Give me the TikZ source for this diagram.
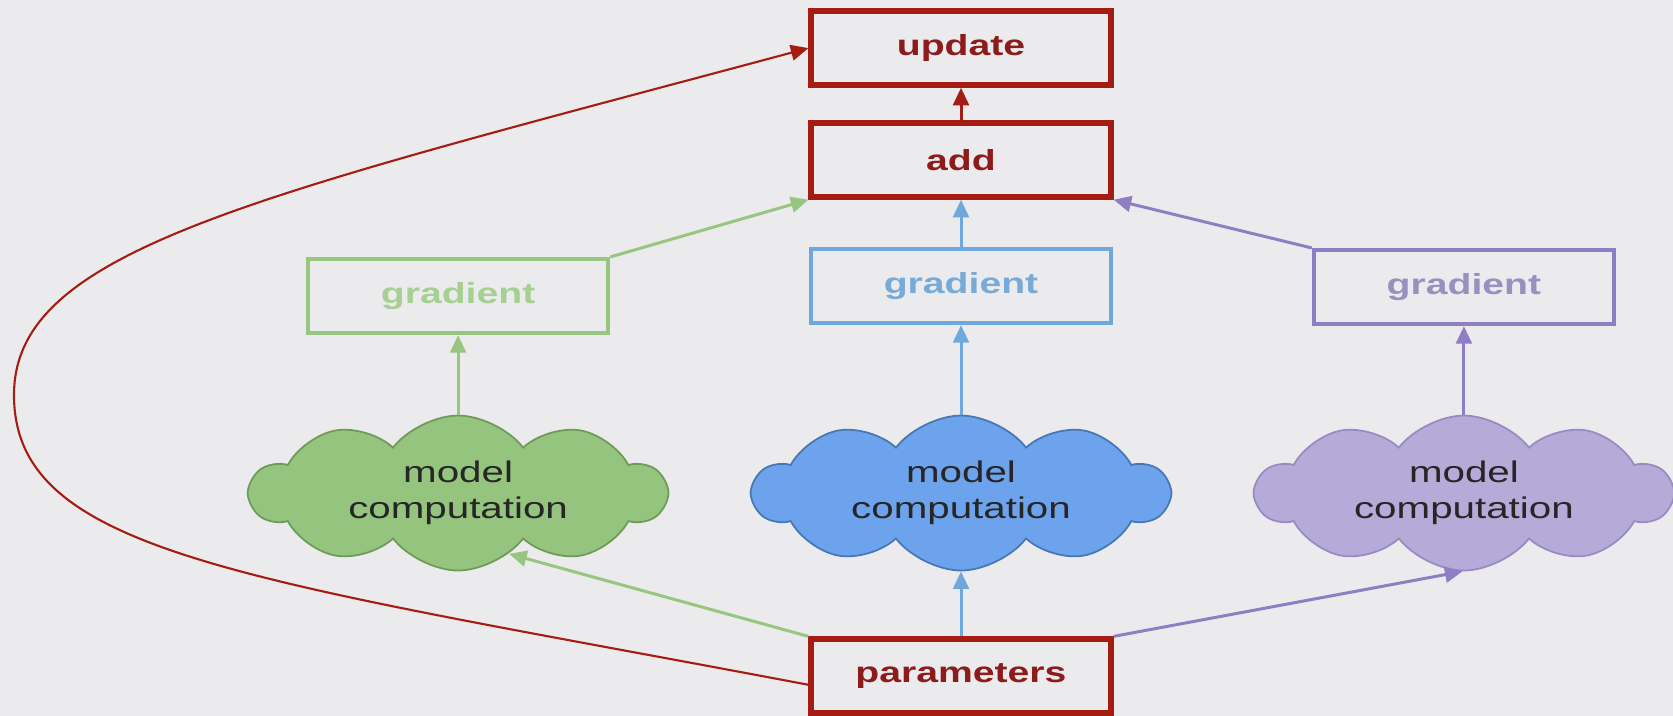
\documentclass[tikz,border=0pt]{standalone}
\usepackage{fontspec}
\newfontfamily\diagfont[FakeStretch=1.35]{Liberation Sans}
\usetikzlibrary{arrows.meta,shapes.symbols}
\newcommand\boxlabel{\diagfont\bfseries\fontsize{16.5}{20}\selectfont}
\newcommand\cloudlabel{\diagfont\fontsize{17}{20.5}\selectfont}

\definecolor{bgcol}{RGB}{235,235,237}
\definecolor{redline}{RGB}{165,28,18}
\definecolor{redtext}{RGB}{140,28,28}
\definecolor{greenline}{RGB}{150,198,128}
\definecolor{greentext}{RGB}{165,208,145}
\definecolor{greenfill}{RGB}{148,196,126}
\definecolor{greencloud}{RGB}{110,155,90}
\definecolor{blueline}{RGB}{111,168,220}
\definecolor{bluetext}{RGB}{120,170,215}
\definecolor{bluefill}{RGB}{109,162,236}
\definecolor{bluecloud}{RGB}{70,120,180}
\definecolor{purpleline}{RGB}{142,126,196}
\definecolor{purpletext}{RGB}{152,144,190}
\definecolor{purplefill}{RGB}{181,170,216}
\definecolor{purplecloud}{RGB}{150,140,196}

\begin{document}
\begin{tikzpicture}[x=0.02cm,y=-0.02cm,->,>={Triangle[length=10pt,width=9pt]},
                    node distance=10.06cm]
\tikzset{opbox/.style={draw=redline,text=redtext,line width=3pt,minimum width=6cm,
           minimum height=1.48cm,font=\boxlabel},
         gradbox/.style={draw=#1line,text=#1text,line width=2.4pt,minimum width=6cm,
           minimum height=1.48cm,font=\boxlabel},
         modelcloud/.style={cloud,cloud puffs=10,cloud puff arc=105,cloud ignores aspect,
           fill=#1fill,draw=#1cloud,line width=1pt,minimum width=8.3cm,
           minimum height=3.1cm,align=center,font=\cloudlabel,text=black!85},
         link/.style={draw=#1line,line width=1.7pt}}
\fill[bgcol,-] (0,0) rectangle (1673,716);
\useasboundingbox (0,0) rectangle (1673,716);

\node[opbox] (params) at (961,676) {parameters};
\node[modelcloud=blue] (cm2) [above of=params,node distance=3.66cm] {model\\computation};
\node[modelcloud=green] (cm1) [left of=cm2] {model\\computation};
\node[modelcloud=purple] (cm3) [right of=cm2] {model\\computation};
\node[gradbox=blue] (grad2) [above of=cm2,node distance=4.14cm] {gradient};
\node[gradbox=green] (grad1) [above of=cm1,node distance=3.94cm] {gradient};
\node[gradbox=purple] (grad3) [above of=cm3,node distance=4.12cm] {gradient};
\node[opbox] (add) [above of=grad2,node distance=2.52cm] {add};
\node[opbox] (update) [above of=add,node distance=2.24cm] {update};

\path (params.north west) edge[link=green] (cm1.-50)
      (params) edge[link=blue] (cm2)
      (params.north east) edge[link=purple] (cm3.-91)
      (cm1) edge[link=green] (grad1)
      (cm2) edge[link=blue] (grad2)
      (cm3) edge[link=purple] (grad3)
      (grad1.north east) edge[link=green] (add.south west)
      (grad2) edge[link=blue] (add)
      (grad3.north west) edge[link=purple] (add.south east)
      (add) edge[link=red] (update);
\draw[redline,line width=1.2pt] ([yshift=-5pt]params.west)
      .. controls +(-560,-106) and +(0,160) .. (14,395)
      .. controls +(0,-145) and +(-560,150) .. (update.west);
\end{tikzpicture}
\end{document}
